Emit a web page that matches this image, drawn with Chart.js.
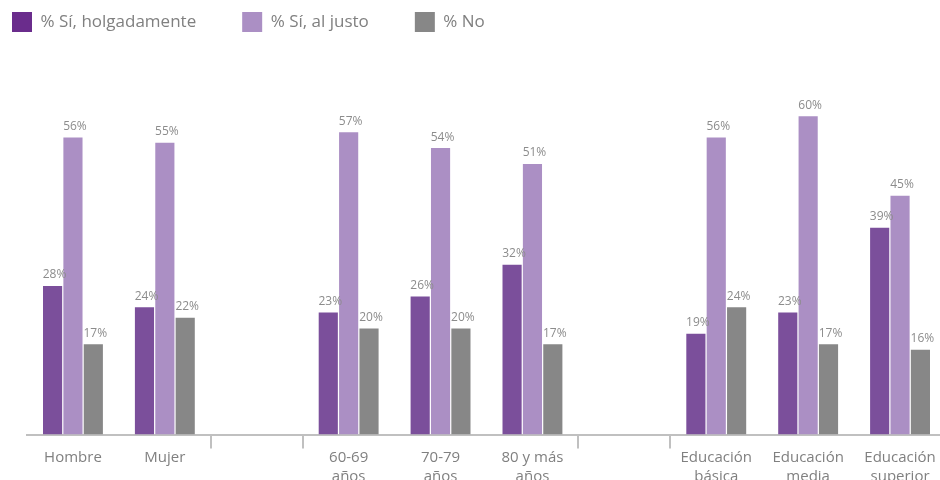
<!DOCTYPE html>
<html>
<head>
<meta charset="utf-8">
<script src="https://cdn.jsdelivr.net/npm/chart.js@4"></script>
<style>
  html, body { margin: 0; padding: 0; background: #fff; overflow: hidden; width: 940px; height: 480px; }
  #wrap { position: relative; width: 950px; height: 490px; }
</style>
</head>
<body>
<div id="wrap"><canvas id="c"></canvas></div>
<script>
const categories = ["Hombre", "Mujer", "", ["60-69", "años"], ["70-79", "años"], ["80 y más", "años"], "", ["Educación", "básica"], ["Educación", "media"], ["Educación", "superior"]];
const seriesNames = ["% Sí, holgadamente", "% Sí, al justo", "% No"];
const holgadamente = [28, 24, null, 23, 26, 32, null, 19, 23, 39];
const alJusto = [56, 55, null, 57, 54, 51, null, 56, 60, 45];
const noValues = [17, 22, null, 20, 20, 17, null, 24, 17, 16];

const barColors = ["#7b4f9b", "#ab8fc4", "#878787"];
const legendColors = ["#6a2c8c", "#ab8fc4", "#878787"];
const textColor = "#808080";

Chart.defaults.font.family = '"Open Sans", "Noto Sans", sans-serif';
Chart.defaults.color = textColor;

const valueLabels = {
  id: 'valueLabels',
  afterDatasetsDraw(chart) {
    const ctx = chart.ctx;
    ctx.save();
    ctx.font = '12px "Open Sans", "Noto Sans", sans-serif';
    ctx.fillStyle = "#8c8c8c";
    ctx.textAlign = 'center';
    ctx.textBaseline = 'bottom';
    chart.data.datasets.forEach((ds, i) => {
      chart.getDatasetMeta(i).data.forEach((bar, j) => {
        const v = ds.data[j];
        if (v == null) return;
        ctx.fillText(v + '%', bar.x + 2, bar.y - 5);
      });
    });
    ctx.restore();
  }
};

const boundaryLines = [2, 3, 6, 7];

new Chart(document.getElementById('c'), {
  type: 'bar',
  data: {
    labels: categories,
    datasets: [
      { label: seriesNames[0], data: holgadamente, backgroundColor: barColors[0] },
      { label: seriesNames[1], data: alJusto, backgroundColor: barColors[1] },
      { label: seriesNames[2], data: noValues, backgroundColor: barColors[2] }
    ]
  },
  options: {
    responsive: true,
    maintainAspectRatio: false,
    animation: false,
    datasets: { bar: { categoryPercentage: 0.665, barPercentage: 0.94 } },
    layout: { padding: { left: -34, top: -34, right: 4, bottom: 4 } },
    plugins: {
      tooltip: { enabled: false },
      legend: {
        position: 'top',
        align: 'start',
        labels: {
          boxWidth: 20,
          boxHeight: 20,
          padding: 46,
          color: textColor,
          font: { size: 17 },
          generateLabels(chart) {
            const items = Chart.defaults.plugins.legend.labels.generateLabels(chart);
            items.forEach((it, i) => { it.fillStyle = legendColors[i]; it.strokeStyle = legendColors[i]; it.lineWidth = 0; });
            return items;
          }
        }
      }
    },
    scales: {
      x: {
        offset: true,
        grid: {
          offset: true,
          drawOnChartArea: false,
          drawTicks: true,
          tickLength: 14,
          lineWidth: 2,
          color: (ctx) => boundaryLines.includes(ctx.index) ? '#c0c0c0' : 'rgba(0,0,0,0)'
        },
        border: { display: true, color: '#c0c0c0', width: 2 },
        ticks: {
          color: textColor,
          font: { size: 15, lineHeight: 1.25 },
          padding: 0,
          maxRotation: 0,
          autoSkip: false
        }
      },
      y: {
        min: 0,
        max: 74,
        display: true,
        grid: { display: false },
        border: { display: false },
        ticks: { display: false },
        afterFit(scale) { scale.width = 61; }
      }
    }
  },
  plugins: [valueLabels]
});
</script>
</body>
</html>
